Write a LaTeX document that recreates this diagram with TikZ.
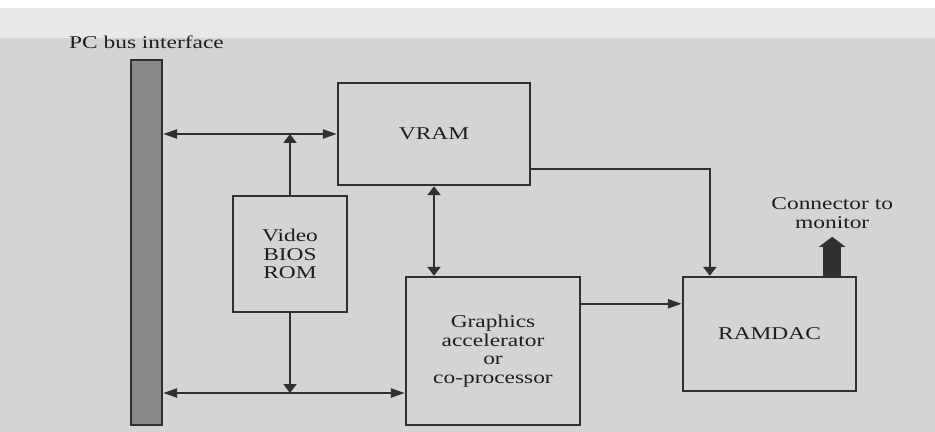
\documentclass[tikz,border=0pt]{standalone}
\usepackage{fontspec}
\setmainfont{Liberation Serif}[FakeStretch=1.3]
\usetikzlibrary{arrows.meta, positioning, calc}
\definecolor{paper}{RGB}{212,212,210}
\definecolor{paperlight}{RGB}{232,232,231}
\definecolor{ink}{RGB}{48,48,48}
\definecolor{textink}{RGB}{30,30,30}
\definecolor{busgray}{RGB}{136,136,134}

\begin{document}
\begin{tikzpicture}[x=0.5pt, y=-0.5pt,
  blk/.style={draw=ink, line width=1.2pt, inner sep=0pt, align=center, text=textink,
    font=\fontsize{9}{9.3}\selectfont},
  lbl/.style={inner sep=0pt, align=center, text=textink, font=\fontsize{9}{9.3}\selectfont},
  bar/.style={draw=ink, line width=1.2pt, fill=busgray, minimum width=15.5pt, minimum height=182.5pt},
  hlink/.style={draw=ink, line width=1.2pt, >={Triangle[length=7pt,width=4.5pt]}},
  vlink/.style={draw=ink, line width=1.2pt, >={Triangle[length=4.5pt,width=6.5pt]}},
  outarrow/.style={draw=ink, line width=9pt, -{Triangle[length=5pt,width=13pt]}}]

  % paper
  \fill[paper] (0,0) rectangle (935,432);
  \fill[paperlight] (0,0) rectangle (935,38);
  \fill[white] (0,0) rectangle (935,8);

  \node[bar] (bus) at (146.5,242.5) {};
  \node[lbl, above=5pt of bus] (buslbl) {PC bus interface};

  \node[blk, minimum width=96pt, minimum height=51pt] (vram) at (434,134) {VRAM};
  \node[blk, minimum width=57pt, minimum height=58pt] (bios) at (290,254) {Video\\BIOS\\ROM};
  \node[blk, minimum width=87pt, minimum height=74pt] (gfx) at (493,351) {Graphics\\accelerator\\or\\co-processor};
  \node[blk, minimum width=86.5pt, minimum height=57pt] (ramdac) at (769.5,334) {RAMDAC};

  \coordinate (lowbus) at (0,393);

  \draw[hlink, <->] (bus.east |- vram.west) -- (vram.west);
  \draw[vlink, ->] (bios.north) -- (bios.north |- vram.west);
  \draw[hlink, <->] (bus.east |- lowbus) -- (gfx.west |- lowbus);
  \draw[vlink, ->] (bios.south) -- (bios.south |- lowbus);
  \draw[vlink, <->] (vram.south) -- (vram.south |- gfx.north);
  \draw[hlink, ->] ([yshift=-14pt]gfx.north east) -- ([yshift=-14pt]gfx.north east -| ramdac.west);
  \draw[vlink, ->] ([yshift=8.5pt]vram.south east) -| ([xshift=14pt]ramdac.north west);

  \draw[outarrow] ([xshift=-12.5pt]ramdac.north east) -- ++(0,-39) coordinate (montip);
  \node[lbl, above=4pt of montip] (montxt) {Connector to\\monitor};
\end{tikzpicture}
\end{document}
